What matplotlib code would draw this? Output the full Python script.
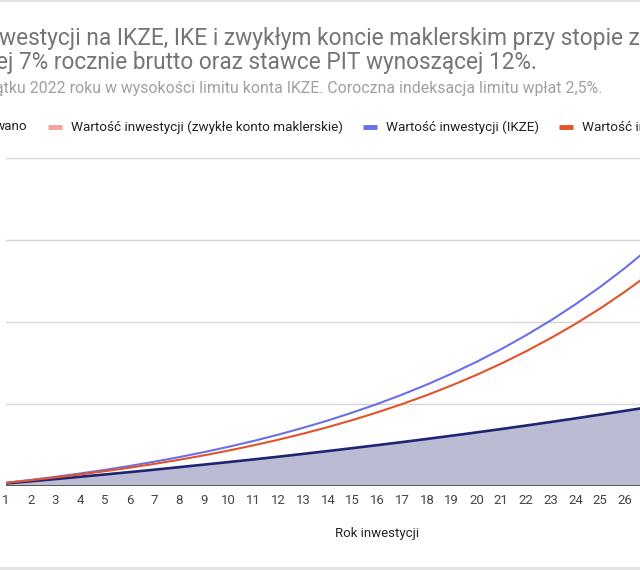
import matplotlib
matplotlib.use("Agg")
import matplotlib.pyplot as plt
from matplotlib.lines import Line2D
from matplotlib.patches import Rectangle

plt.rcParams['font.family'] = ['Roboto', 'DejaVu Sans']

# Dane (zł), lata 1..27
lata = list(range(1, 28))
zainwestowano = [7700, 15500, 23600, 32000, 40500, 49200, 58000, 67300, 76600, 86000,
                 95600, 105500, 115800, 126300, 137000, 147900, 159100, 170600, 182400,
                 194500, 206900, 219600, 232700, 246000, 259700, 273600, 287800]
ikze = [9900, 20400, 31800, 44100, 57300, 71700, 87500, 104000, 122400, 142100,
        163200, 186400, 211400, 238200, 267600, 298900, 333100, 369800, 409900,
        452900, 499600, 550300, 604700, 663900, 727800, 797000, 871600]
ike = [9900, 19300, 29600, 40500, 52500, 65300, 79300, 94300, 110600, 128200,
       147200, 167700, 190000, 214000, 240000, 268100, 298400, 331200, 366700,
       405100, 446600, 491500, 540000, 592200, 648800, 710200, 776400]
siatka_y = [0, 300000, 600000, 900000, 1200000]
widoczne_lata = list(range(1, 27))

NAVY = "#1f2473"
BLUE = "#6a70e6"
ORANGE = "#e2532b"
PINK = "#f2a39a"

W, H = 640, 570
fig = plt.figure(figsize=(W / 100, H / 100), dpi=100)

def fx(px):
    return px / W

def fy(py):
    return 1 - py / H

# obszar wykresu (wychodzi poza prawą krawędź, jak w kadrze)
x0, y_base, y_top = 6, 485.5, 158
px_rok = 24.76
ax = fig.add_axes([fx(x0), fy(y_base), 30 * px_rok / W, (y_base - y_top) / H])
ax.set_xlim(1, 31)
ax.set_ylim(0, 1200000)

ax.fill_between(lata, 0, zainwestowano, color=NAVY, alpha=0.3, lw=0, zorder=1)
ax.plot(lata, zainwestowano, color=NAVY, lw=1.9, zorder=3)
ax.plot(lata, ikze, color=BLUE, lw=1.5, zorder=4)
ax.plot(lata, ike, color=ORANGE, lw=1.5, zorder=5)
# seria "zwykłe konto maklerskie" nie jest widoczna na wykresie - tylko w legendzie

for v in siatka_y[1:]:
    ax.axhline(v, color="#d6d6d6", lw=1.0, zorder=0)
ax.axhline(0, color="#555555", lw=1.4, zorder=6)

ax.set_xticks(widoczne_lata)
ax.set_yticks([])
ax.tick_params(axis='x', length=0, pad=6, labelsize=9.5, labelcolor="#444444")
for s in ax.spines.values():
    s.set_visible(False)

fig.text(fx(377), fy(533), "Rok inwestycji", ha='center', va='center',
         fontsize=9.5, color="#222222")

# tytuł i podtytuł (przycięte w kadrze)
fig.text(fx(-1), fy(38), "westycji na IKZE, IKE i zwykłym koncie maklerskim przy stopie z",
         ha='left', va='center', fontsize=16.4, color="#757575")
fig.text(fx(537), fy(63), "ej 7% rocznie brutto oraz stawce PIT wynoszącej 12%.",
         ha='right', va='center', fontsize=16.3, color="#757575")
fig.text(fx(602), fy(88), "ątku 2022 roku w wysokości limitu konta IKZE. Coroczna indeksacja limitu wpłat 2,5%.",
         ha='right', va='center', fontsize=11.4, color="#a0a0a0")

# legenda
ly = fy(127)
fig.text(fx(27), ly, "wano", ha='right', va='center', fontsize=9.7, color="#222222")
legenda = [(48, PINK, "Wartość inwestycji (zwykłe konto maklerskie)"),
           (363, BLUE, "Wartość inwestycji (IKZE)"),
           (559, ORANGE, "Wartość inwestycji (IKE)")]
for px, kolor, etykieta in legenda:
    fig.add_artist(Line2D([fx(px), fx(px + 14)], [ly, ly], color=kolor, lw=3.5,
                          solid_capstyle='butt', transform=fig.transFigure))
    fig.text(fx(px + 23), ly, etykieta, ha='left', va='center', fontsize=9.7,
             color="#222222", clip_on=False)

# szare krawędzie zrzutu ekranu
fig.add_artist(Rectangle((0, fy(2)), 1, fy(0) - fy(2), transform=fig.transFigure,
                         color="#e3e3e3", lw=0))
fig.add_artist(Rectangle((0, 0), 1, 1 - fy(3), transform=fig.transFigure,
                         color="#e3e3e3", lw=0))

fig.savefig("out.png", dpi=100)
